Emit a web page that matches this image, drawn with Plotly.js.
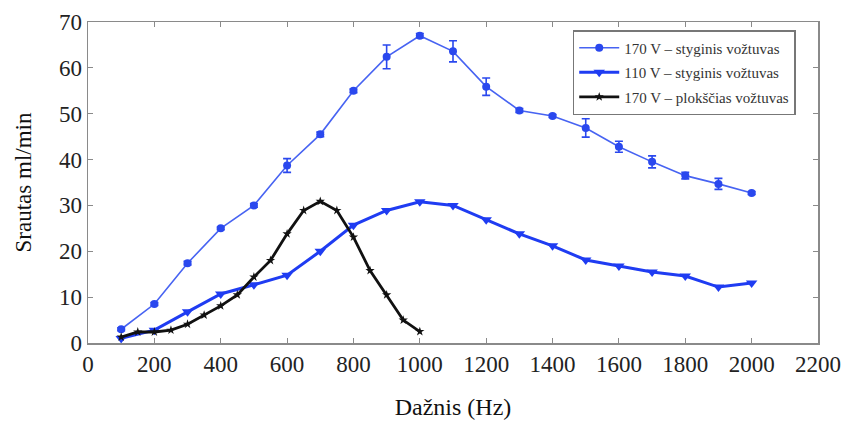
<!DOCTYPE html>
<html>
<head>
<meta charset="utf-8">
<script src="https://cdn.plot.ly/plotly-3.0.1.min.js"></script>
<style>
  html, body { margin: 0; padding: 0; background: #fff; }
  #chart { width: 848px; height: 425px; }
</style>
</head>
<body>
<div id="chart"></div>
<script>
// Frequency (Hz) and flow (ml/min) for each valve / voltage configuration
const freqString = [100, 200, 300, 400, 500, 600, 700, 800, 900, 1000,
                    1100, 1200, 1300, 1400, 1500, 1600, 1700, 1800, 1900, 2000];
const flow170String = [3.0, 8.5, 17.4, 25.0, 30.0, 38.7, 45.5, 55.0, 62.4, 67.0,
                       63.6, 55.9, 50.7, 49.5, 46.9, 42.8, 39.5, 36.5, 34.7, 32.7];
const err170String = [0.3, 0.3, 0.4, 0.3, 0.4, 1.5, 0.5, 0.4, 2.6, 0.5,
                      2.3, 1.9, 0.4, 0.3, 2.0, 1.2, 1.3, 0.7, 1.2, 0.3];
const flow110String = [1.0, 2.8, 6.8, 10.7, 12.7, 14.8, 20.0, 25.7, 28.9, 30.8,
                       30.0, 26.9, 23.8, 21.2, 18.1, 16.8, 15.5, 14.6, 12.2, 13.1];
const freqFlat = [100, 150, 200, 250, 300, 350, 400, 450, 500, 550,
                  600, 650, 700, 750, 800, 850, 900, 950, 1000];
const flow170Flat = [1.3, 2.4, 2.4, 2.8, 4.1, 6.1, 8.1, 10.5, 14.4, 18.0,
                     23.8, 28.9, 30.9, 28.9, 23.1, 15.8, 10.5, 5.0, 2.5];

const names = ['170 V – styginis vožtuvas', '110 V – styginis vožtuvas', '170 V – plokščias vožtuvas'];

const serif = 'Liberation Serif';

const traces = [
  {
    x: freqString, y: flow170String, name: names[0], legendgroup: 'a',
    type: 'scatter', mode: 'lines+markers',
    line: { color: '#4763f2', width: 1.6 },
    marker: { symbol: 'circle', size: 8, color: '#2a48ee' },
    error_y: { type: 'data', array: err170String, visible: true,
               color: '#2a48ee', thickness: 1.6, width: 4 }
  },
  {
    x: freqString, y: flow110String, name: names[1], legendgroup: 'b',
    type: 'scatter', mode: 'lines+markers',
    line: { color: '#1f3cf2', width: 3 },
    marker: { symbol: 'triangle-down', size: 10, color: '#1f3cf2' }
  },
  {
    x: freqFlat, y: flow170Flat, name: names[2], legendgroup: 'c',
    type: 'scatter', mode: 'lines+markers',
    line: { color: '#111', width: 2.8 },
    marker: { symbol: 'star', size: 7, color: '#111' }
  }
];

const axisCommon = {
  showgrid: false, zeroline: false, showline: true, mirror: 'ticks',
  linecolor: '#8a8a8a', linewidth: 1.5,
  ticks: 'inside', ticklen: 5, tickcolor: '#8a8a8a', tickwidth: 1,
  tickfont: { family: serif, size: 23, color: '#222' }
};

const layout = {
  width: 848, height: 425,
  margin: { l: 88, r: 30, t: 22, b: 82 },
  font: { family: serif, color: '#222' },
  paper_bgcolor: '#fff', plot_bgcolor: '#fff',
  showlegend: true,
  xaxis: Object.assign({}, axisCommon, {
    range: [0, 2200], tickvals: [0, 200, 400, 600, 800, 1000, 1200, 1400, 1600, 1800, 2000, 2200],
    ticklabelstandoff: 0,
    title: { text: 'Dažnis (Hz)', font: { family: serif, size: 24, color: '#111' }, standoff: 22 }
  }),
  yaxis: Object.assign({}, axisCommon, {
    range: [0, 70], tickvals: [0, 10, 20, 30, 40, 50, 60, 70],
    ticklabelstandoff: 0,
    title: { text: 'Srautas ml/min', font: { family: serif, size: 23, color: '#111' }, standoff: 21 }
  }),
  legend: {
    x: 0.664, y: 0.975, xanchor: 'left', yanchor: 'top',
    bgcolor: '#fff', bordercolor: '#777', borderwidth: 1.5,
    font: { family: serif, size: 15, color: '#333' },
    tracegroupgap: 2, itemwidth: 40
  }
};

Plotly.newPlot('chart', traces, layout, { displayModeBar: false, staticPlot: true });
</script>
</body>
</html>
